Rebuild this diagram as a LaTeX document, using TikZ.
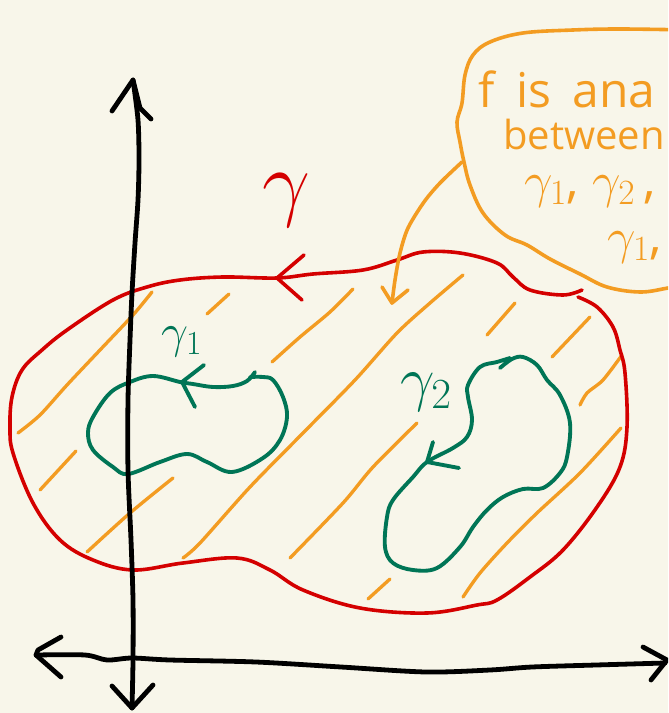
\RequirePackage{fix-cm}
\documentclass[tikz,border=0pt]{standalone}
\usepackage{fontspec}
\setmainfont{Open Sans}

\definecolor{paper}{RGB}{248,246,234}
\definecolor{gred}{RGB}{212,0,0}
\definecolor{hatch}{RGB}{243,156,34}
\definecolor{loopgreen}{RGB}{0,117,86}

\begin{document}
\begin{tikzpicture}[
    x=0.75pt, y=-0.75pt,
    inkline/.style={line width=2.7pt, line cap=round, line join=round},
    axisline/.style={inkline, line width=3.6pt, draw=black},
    redloop/.style={inkline, draw=gred},
    greenloop/.style={inkline, line width=2.9pt, draw=loopgreen},
    hatchline/.style={inkline, line width=2.5pt, draw=hatch},
    every node/.style={inner sep=0pt}
]

\useasboundingbox (0,0) rectangle (668,713);
\fill[paper] (0,0) rectangle (668,713);
\clip (0,0) rectangle (668,713);

% Hatching of the region between the curves
\draw[hatchline] plot[smooth] coordinates {(152,292) (133,315) (100,350) (67,385) (40,415) (18,433)};
\draw[hatchline] (229,294) -- (207,314);
\draw[hatchline] plot[smooth] coordinates {(353,289) (330,312) (300,337) (272,362)};
\draw[hatchline] (76,451) -- (40,490);
\draw[hatchline] plot[smooth] coordinates {(173,478) (130,513) (87,552)};
\draw[hatchline] plot[smooth] coordinates {(463,275) (430,303) (397,333) (355,380) (303,433) (250,487) (200,543) (183,558)};
\draw[hatchline] plot[smooth] coordinates {(417,423) (373,467) (343,503) (290,558)};
\draw[hatchline] (515,303) -- (487,335);
\draw[hatchline] (590,317) -- (552,357);
\draw[hatchline] plot[smooth] coordinates {(622,355) (603,380) (587,393) (580,405)};
\draw[hatchline] plot[smooth] coordinates {(621,428) (580,473) (537,513) (507,543) (480,573) (463,597)};
\draw[hatchline] (390,579) -- (368,599);

% Outer curve gamma
\draw[redloop] plot[smooth, tension=0.6] coordinates {
    (578,297) (597,307) (613,327) (620,350) (625,373) (627,427) (620,467)
    (597,507) (563,550) (530,577) (497,600) (477,605) (427,613) (360,608)
    (303,590) (270,570) (237,558) (183,563) (133,570) (93,560) (60,540)
    (33,503) (13,453) (10,427) (12,397) (22,370) (42,350) (67,330)
    (113,300) (147,287) (180,280) (223,277) (277,278) (313,274) (363,270)
    (397,260) (423,252) (460,253) (497,263) (513,277) (530,290) (563,295)
    (582,290)};
\draw[redloop] (304,255) -- (277,278) -- (302,300);
\node[text=gred, font=\fontsize{64}{64}\selectfont] (gammalabel) at (286,200) {$\gamma$};

% Inner curve gamma_1
\draw[greenloop] plot[smooth, tension=0.6] coordinates {
    (255,372) (247,381) (233,386) (213,387) (193,384) (180,382) (153,376)
    (130,382) (110,393) (93,417) (88,433) (93,450) (113,467) (128,474)
    (160,462) (187,454) (207,462) (232,472) (263,458) (280,440) (287,417)
    (283,397) (273,380) (263,377) (250,377)};
\draw[greenloop] (204,365) -- (182,382) -- (195,407);
\node[text=loopgreen, font=\fontsize{36}{36}\selectfont] (gammaone) at (182,342) {$\gamma_1$};

% Inner curve gamma_2
\draw[greenloop] plot[smooth, tension=0.6] coordinates {
    (500,368) (512,359) (523,357) (537,365) (547,380) (560,395) (570,423)
    (567,457) (560,473) (543,488) (523,489) (503,497) (487,510) (473,527)
    (460,547) (437,568) (413,570) (393,563) (385,547) (387,517) (393,500)
    (413,477) (427,462) (453,448) (467,437) (472,420) (468,397) (468,385)
    (480,367) (497,362) (510,358)};
\draw[greenloop] (433,442) -- (427,462) -- (459,468);
\node[text=loopgreen, font=\fontsize{46}{46}\selectfont] (gammatwo) at (426,392) {$\gamma_2$};

% Callout
\draw[hatchline, line width=2.7pt] plot[smooth, tension=0.6] coordinates {
    (690,30) (620,29) (573,30) (523,33) (490,42) (473,55) (465,75)
    (462,103) (457,122) (460,142) (464,162) (470,185) (483,213) (505,235)
    (527,245) (550,259) (580,274) (607,287) (640,292) (668,288) (690,284)};
\draw[hatchline, line width=2.7pt] plot[smooth] coordinates {(462,162) (440,183) (424,202) (408,228) (400,253) (395,280) (392,303)};
\draw[hatchline, line width=2.7pt] (382,287) -- (392,303) -- (408,290);

\node[text=hatch, anchor=base west, font=\fontsize{36}{36}\selectfont] (noteone) at (478,108) {f\hspace{0.45em}is\hspace{0.45em}ana};
\node[text=hatch, anchor=base west, font=\fontsize{30}{30}\selectfont] (notetwo) at (503,150) {between};
\node[text=hatch, anchor=base west, font=\fontsize{38}{38}\selectfont] (notethree) at (524,197) {$\gamma_1$, $\gamma_2$\,,};
\node[text=hatch, anchor=base west, font=\fontsize{38}{38}\selectfont] (notefour) at (607,253) {$\gamma_1$,};

% Axes
\draw[axisline] plot[smooth] coordinates {(133,80) (138,120) (139,160) (138,200) (135,243) (132,293) (130,340) (128,400) (128,470) (131,540) (133,600) (133,660) (132,708)};
\draw[axisline] (112,111) -- (133,80) -- (140,108) -- (151,119);
\draw[axisline] (112,686) -- (132,708) -- (153,685);
\draw[axisline] plot[smooth] coordinates {(36,655) (85,655) (107,660) (132,658) (170,660) (256,662) (341,667) (426,672) (490,670) (532,667) (596,665) (665,663)};
\draw[axisline] (61,637) -- (38,650) -- (36,655) -- (61,677);
\draw[axisline] (643,647) -- (667,660) -- (651,680);

\end{tikzpicture}
\end{document}
